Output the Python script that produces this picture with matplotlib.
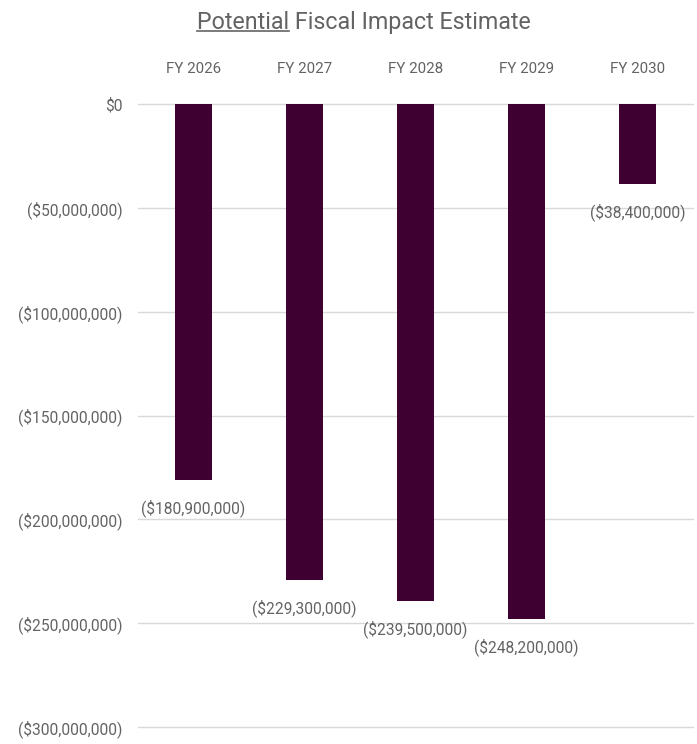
import matplotlib
matplotlib.use("Agg")
import matplotlib.pyplot as plt
from matplotlib.lines import Line2D
from matplotlib.ticker import FuncFormatter

categories = ["FY 2026", "FY 2027", "FY 2028", "FY 2029", "FY 2030"]
values = [-180_900_000, -229_300_000, -239_500_000, -248_200_000, -38_400_000]
yticks = [0, -50_000_000, -100_000_000, -150_000_000, -200_000_000, -250_000_000, -300_000_000]

FONT = ["Roboto", "DejaVu Sans"]
GREY = "#636363"
BAR = "#3d0030"

def money(v, pos=None):
    if v == 0:
        return "$0"
    s = f"${abs(v):,.0f}"
    return f"({s})" if v < 0 else s

fig = plt.figure(figsize=(6.97, 7.44), dpi=100)
fig.canvas.draw()
r = fig.canvas.get_renderer()

def fit_size(text, target_px, base=12):
    tmp = fig.text(0, 0, text, family=FONT, fontsize=base)
    w = tmp.get_window_extent(r).width
    tmp.remove()
    return base * target_px / w

lab_fs = fit_size("($50,000,000)", 95)
cat_fs = fit_size("FY 2026", 55)
title_fs = fit_size("Potential Fiscal Impact Estimate", 333)

ax = fig.add_axes([138/697, 1-727/744, (693-138)/697, (727-104)/744])

x = list(range(len(categories)))
ax.bar(x, values, width=0.325, color=BAR, zorder=3)
ax.set_xlim(-0.5, len(categories)-0.5)
ax.set_ylim(-300_000_000, 0)
ax.set_yticks(yticks)
ax.yaxis.set_major_formatter(FuncFormatter(money))
ax.grid(axis="y", color="#d9d9d9", linewidth=1, zorder=0)
for gl in ax.get_ygridlines():
    gl.set_clip_on(False)
for s in ax.spines.values():
    s.set_visible(False)
ax.tick_params(axis="y", length=0, pad=11, labelsize=lab_fs, labelcolor=GREY)
for t in ax.get_yticklabels():
    t.set_family(FONT)
ax.xaxis.set_ticks_position("top")
ax.set_xticks(x)
ax.set_xticklabels(categories, family=FONT, fontsize=cat_fs, color=GREY)
ax.tick_params(axis="x", length=0, pad=20)

for xi, v in zip(x, values):
    ax.annotate(money(v), (xi, v), xytext=(0, -28), textcoords="offset pixels",
                ha="center", va="center", family=FONT, fontsize=lab_fs, color=GREY, zorder=4)

# title with underlined first word
title_full = "Potential Fiscal Impact Estimate"
t = fig.text(363.5/697, 1 - 22/744, title_full, ha="center", va="center", family=FONT,
             fontsize=title_fs, color=GREY)
fig.canvas.draw()
bb = t.get_window_extent(r)
tmp = fig.text(0, 0, "Potential", family=FONT, fontsize=title_fs)
wb = tmp.get_window_extent(r)
tmp.remove()
x0 = bb.x0
x1 = bb.x0 + wb.width
yline = bb.y0 + 3
fig.add_artist(Line2D([x0/fig.bbox.width, x1/fig.bbox.width],
                      [yline/fig.bbox.height]*2, color=GREY, linewidth=1.2))

fig.savefig("out.png", dpi=100)
